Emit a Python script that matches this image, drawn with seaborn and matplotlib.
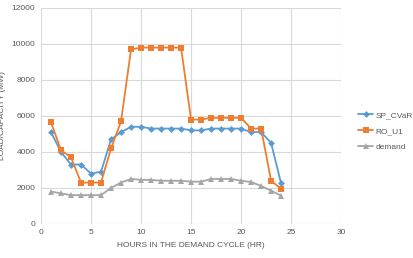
import numpy as np
import pandas as pd
import seaborn as sns
import matplotlib.pyplot as plt

hours = list(range(1, 25))
sp_cvar = [5100, 4000, 3300, 3300, 2800, 2900, 4700, 5100, 5400, 5400, 5300, 5300,
           5300, 5300, 5200, 5200, 5300, 5300, 5300, 5300, 5100, 5100, 4500, 2250]
ro_u1 = [5650, 4100, 3700, 2300, 2300, 2300, 4200, 5700, 9700, 9800, 9800, 9800,
         9800, 9800, 5800, 5800, 5900, 5900, 5900, 5900, 5300, 5300, 2400, 1950]
demand = [1800, 1700, 1600, 1600, 1600, 1600, 2000, 2300, 2500, 2450, 2450, 2400,
          2400, 2400, 2350, 2350, 2500, 2500, 2500, 2400, 2330, 2110, 1850, 1570]
series_names = ['SP_CVaR', 'RO_U1', 'demand']

df = pd.concat([
    pd.DataFrame({'hour': hours, 'value': vals, 'series': name})
    for name, vals in zip(series_names, [sp_cvar, ro_u1, demand])
])

palette = {'SP_CVaR': '#5B9BD5', 'RO_U1': '#ED7D31', 'demand': '#A5A5A5'}
markers = {'SP_CVaR': 'D', 'RO_U1': 's', 'demand': '^'}
sizes = {'SP_CVaR': 3.5, 'RO_U1': 5, 'demand': 4.5}

sns.set_style('white')
plt.rcParams['font.family'] = ['Liberation Sans', 'DejaVu Sans']

fig = plt.figure(figsize=(4.14, 2.58), dpi=100)
ax = fig.add_axes([0.099, 0.132, 0.725, 0.837])

for name in series_names:
    sns.lineplot(data=df[df.series == name], x='hour', y='value', ax=ax,
                 color=palette[name], marker=markers[name], markersize=sizes[name],
                 markeredgewidth=0, linewidth=1.3, label=name)

ax.set_xlim(0, 30)
ax.set_ylim(0, 12000)
ax.set_xticks(range(0, 31, 5))
ax.set_yticks(range(0, 12001, 2000))
ax.grid(True, color='#D9D9D9', linewidth=0.8)
for s in ax.spines.values():
    s.set_visible(False)
ax.tick_params(length=0, labelsize=6, colors='#595959', pad=4)
ax.set_xlabel('HOURS IN THE DEMAND CYCLE (HR)', fontsize=6, color='#595959')
ax.set_ylabel('LOAD/CAPACITY (MW)', fontsize=6, color='#595959')

ax.legend(loc='center left', bbox_to_anchor=(1.055, 0.43), frameon=False,
          fontsize=6, labelcolor='#595959', handlelength=1.9, handletextpad=0.2,
          labelspacing=1.0, borderpad=0, borderaxespad=0)

fig.savefig('out.png', dpi=100)
